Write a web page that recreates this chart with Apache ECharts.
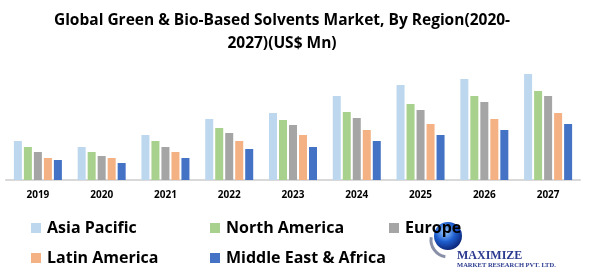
<!DOCTYPE html>
<html>
<head>
<meta charset="utf-8">
<script src="https://cdn.jsdelivr.net/npm/echarts@6/dist/echarts.min.js"></script>
<style>
  html, body { margin: 0; padding: 0; background: #fff; }
  #main { width: 589px; height: 274px; }
</style>
</head>
<body>
<div id="main"></div>
<script>
// 年份
const years = ['2019', '2020', '2021', '2022', '2023', '2024', '2025', '2026', '2027']
// 各地区数据 (US$ Mn, 按图读数)
const asiaPacific = [39, 33, 45, 61, 67, 84, 95, 101, 106]
const northAmerica = [33, 28, 39, 52, 60, 68, 76, 84, 89]
const europe = [28, 24, 33, 47, 55, 62, 70, 78, 84]
const latinAmerica = [22, 22, 28, 39, 45, 50, 56, 61, 67]
const middleEastAfrica = [20, 17, 22, 31, 33, 39, 45, 50, 56]

const regionNames = ['Asia Pacific', 'North America', 'Europe', 'Latin America', 'Middle East & Africa']
const regionColors = ['#BDD7EE', '#A9D18E', '#A5A5A5', '#F4B183', '#4472C4']
const regionData = [asiaPacific, northAmerica, europe, latinAmerica, middleEastAfrica]

const font = '"Open Sans", sans-serif'

const chart = echarts.init(document.getElementById('main'))

// 图例 样式
const legendBase = {
  orient: 'vertical',
  itemWidth: 10,
  itemHeight: 10,
  itemGap: 14,
  icon: 'rect',
  textStyle: { fontFamily: font, fontWeight: 'bold', fontSize: 16, color: '#000', padding: [0, 0, 0, 1] }
}

const option = {
  animation: false,
  title: {
    text: 'Global Green & Bio-Based Solvents Market, By Region(2020-\n2027)(US$ Mn)',
    left: 277,
    top: 4,
    textAlign: 'center',
    textStyle: { fontFamily: font, fontWeight: 'bold', fontSize: 15.5, lineHeight: 23, color: '#000' }
  },
  legend: [
    Object.assign({ left: 26, top: 215, data: ['Asia Pacific', 'Latin America'] }, legendBase),
    Object.assign({ left: 205, top: 215, data: ['North America', 'Middle East & Africa'] }, legendBase),
    Object.assign({ left: 384, top: 215, data: ['Europe'] }, legendBase)
  ],
  grid: { left: 6, right: 9, top: 60, bottom: 94 },
  xAxis: {
    type: 'category',
    data: years,
    axisLine: { lineStyle: { color: '#D9D9D9', width: 2 } },
    axisTick: { show: false },
    axisLabel: { margin: 10, fontFamily: font, fontWeight: 'bold', fontSize: 10, color: '#000' }
  },
  yAxis: {
    type: 'value',
    min: 0,
    max: 120,
    show: false
  },
  series: regionNames.map((name, i) => ({
    name: name,
    type: 'bar',
    data: regionData[i],
    barWidth: 8,
    barGap: '25%',
    itemStyle: { color: regionColors[i] }
  })),
  // logo
  graphic: [
    {
      type: 'arc',
      shape: { cx: 448, cy: 240, r: 17, startAngle: Math.PI * 0.55, endAngle: Math.PI * 1.05 },
      style: { stroke: '#8a8fa8', lineWidth: 3, fill: null }
    },
    {
      type: 'circle',
      shape: { cx: 448, cy: 236, r: 14 },
      style: {
        fill: new echarts.graphic.RadialGradient(0.4, 0.35, 0.7, [
          { offset: 0, color: '#9fd0ff' },
          { offset: 0.5, color: '#1f5fd0' },
          { offset: 1, color: '#0a1f6e' }
        ])
      }
    },
    {
      type: 'text',
      left: 457,
      top: 250,
      style: { text: 'MAXIMIZE', fill: '#2a3a8f', font: 'bold 12px "Liberation Serif", serif' }
    },
    {
      type: 'text',
      left: 457,
      top: 262,
      style: { text: 'MARKET RESEARCH PVT. LTD.', fill: '#2a3a8f', font: 'bold 6.5px "Liberation Serif", serif' }
    }
  ]
}

chart.setOption(option)
</script>
</body>
</html>
